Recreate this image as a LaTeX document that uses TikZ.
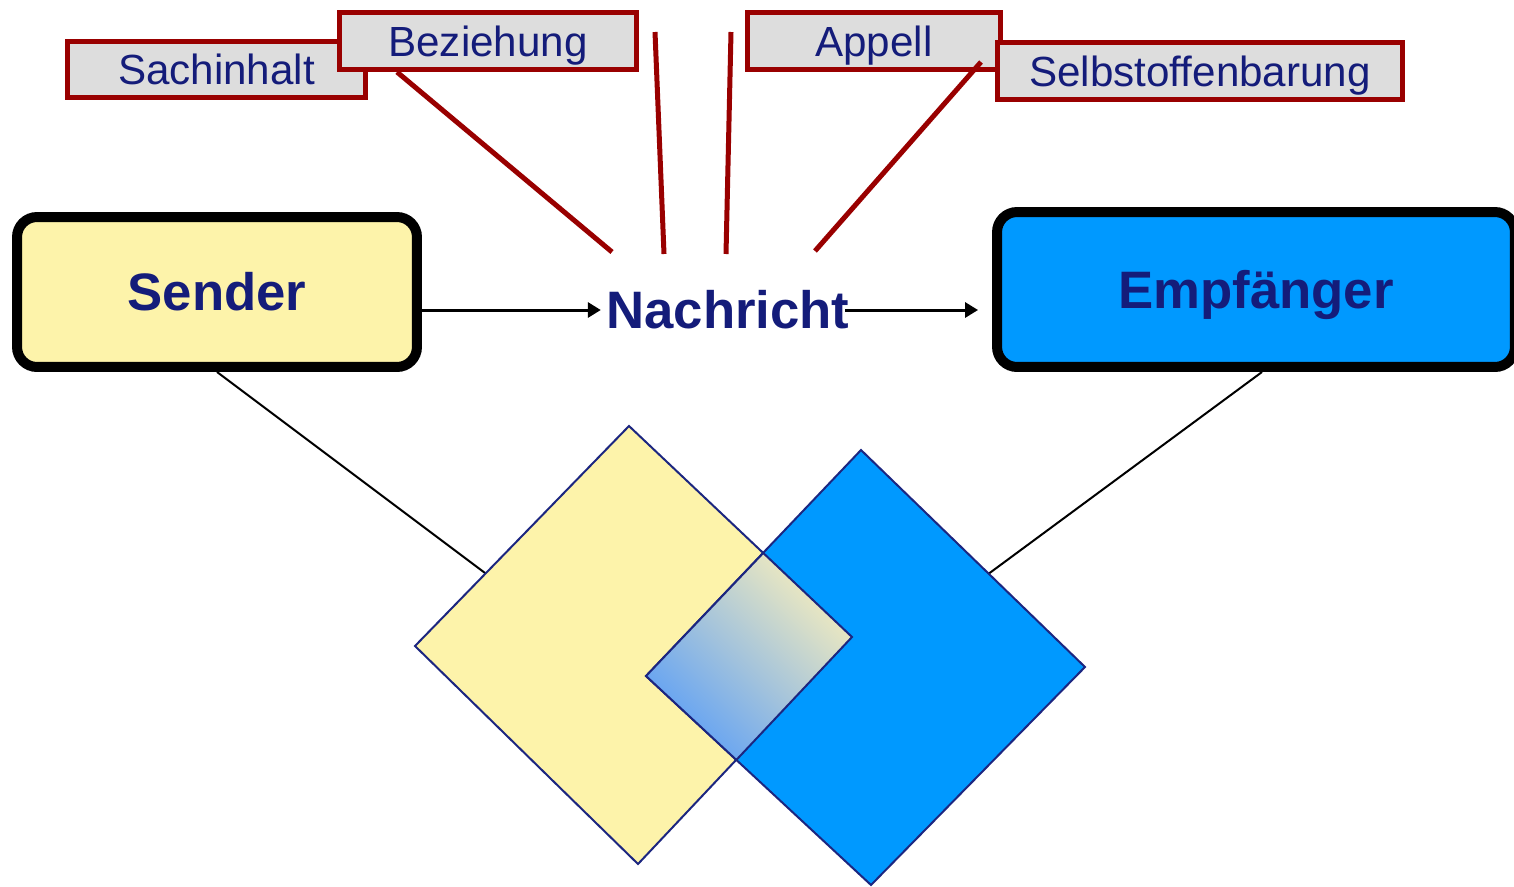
\documentclass[tikz,border=0pt]{standalone}
\usepackage{fontspec}
\setmainfont{Liberation Sans}
\usepackage{tikz}
\usetikzlibrary{positioning, calc, arrows.meta}

\definecolor{msgnavy}{RGB}{20,28,122}
\definecolor{edgenavy}{RGB}{28,38,128}
\definecolor{tagred}{RGB}{153,0,0}
\definecolor{taggray}{RGB}{221,221,221}
\definecolor{sendyellow}{RGB}{253,243,170}
\definecolor{recvblue}{RGB}{0,153,255}
\definecolor{mixblue}{RGB}{95,160,245}
\definecolor{mixyellow}{RGB}{243,236,190}

\begin{document}
\begin{tikzpicture}[x=0.02cm, y=-0.02cm,
        tagbox/.style={draw=tagred, line width=0.1cm, fill=taggray, text=msgnavy,
            font=\fontsize{24}{28}\selectfont, text height=17.3pt, text depth=0pt,
            minimum height=1.14cm},
        partybox/.style={draw=black, line width=0.2cm, rounded corners=0.4cm, text=msgnavy,
            font=\fontsize{30}{36}\selectfont\bfseries, text height=21.6pt, text depth=0pt},
        rayline/.style={draw=tagred, line width=0.1cm},
        flowarrow/.style={line width=0.06cm, -{Triangle[length=0.26cm,width=0.3cm]}},
        tieline/.style={line width=0.04cm},
        rhomb/.style={draw=edgenavy, line width=0.04cm}]
    \useasboundingbox (0,0) rectangle (1514,886);

    % the four sides of a message
    \node (Fact) [tagbox, minimum width=5.96cm] at (216.5,69.5) {Sachinhalt};
    \node (Rel) [tagbox, minimum width=5.94cm] at (488,41) {Beziehung};
    \node (Appeal) [tagbox, minimum width=5.06cm] at (874,41) {Appell};

    \coordinate (RelFoot) at (397,72);
    \coordinate (RelEnd) at (612,252);
    \coordinate (MidLTop) at (655,32);
    \coordinate (MidLEnd) at (664,254);
    \coordinate (MidRTop) at (731,32);
    \coordinate (MidREnd) at (726,254);
    \coordinate (SelfFoot) at (981,62);
    \coordinate (SelfEnd) at (815,251);
    \path[rayline] (RelFoot) -- (RelEnd)
                   (MidLTop) -- (MidLEnd)
                   (MidRTop) -- (MidREnd)
                   (SelfFoot) -- (SelfEnd);

    \node (Self) [tagbox, minimum width=8.1cm] at (1200,71) {Selbstoffenbarung};

    % sender, message, receiver
    \node (Send) [partybox, fill=sendyellow, minimum width=8cm, minimum height=3cm] at (217,292) {Sender};
    \node (Recv) [partybox, fill=recvblue, minimum width=10.36cm, minimum height=3.1cm] at (1256,289.5) {Empfänger};
    \node (Msg) [text=msgnavy, font=\fontsize{30}{36}\selectfont\bfseries, text height=21.6pt,
        text depth=0pt, inner xsep=3pt] at (728,310) {Nachricht};

    \draw[flowarrow] (Send.east |- Msg) -- (Msg.west);
    \draw[flowarrow, shorten >=0.28cm] ([xshift=-0.2cm]Msg.east) -- (Recv.west |- Msg);

    % overlapping worlds
    \coordinate (YelTop) at (629,426);
    \coordinate (YelRight) at (852,637);
    \coordinate (YelBot) at (638,864);
    \coordinate (YelLeft) at (415,646);
    \coordinate (BluTop) at (861,450);
    \coordinate (BluRight) at (1085,667);
    \coordinate (BluBot) at (871,885);
    \coordinate (BluLeft) at (646,676);

    \draw[tieline] (Send.south) -- ($(YelLeft)!0.33!(YelTop)$);
    \draw[tieline] ([xshift=0.12cm]Recv.south) -- ($(BluTop)!0.57!(BluRight)$);

    \draw[rhomb, fill=sendyellow] (YelTop) -- (YelRight) -- (YelBot) -- (YelLeft) -- cycle;
    \draw[rhomb, fill=recvblue] (BluTop) -- (BluRight) -- (BluBot) -- (BluLeft) -- cycle;

    \coordinate (MixTop) at (intersection of YelTop--YelRight and BluLeft--BluTop);
    \coordinate (MixBot) at (intersection of YelRight--YelBot and BluLeft--BluBot);
    \shade[bottom color=mixblue, top color=mixyellow, shading angle=-45]
        (MixTop) -- (YelRight) -- (MixBot) -- (BluLeft) -- cycle;
    \draw[rhomb] (MixTop) -- (YelRight) -- (MixBot) -- (BluLeft) -- cycle;
\end{tikzpicture}
\end{document}
